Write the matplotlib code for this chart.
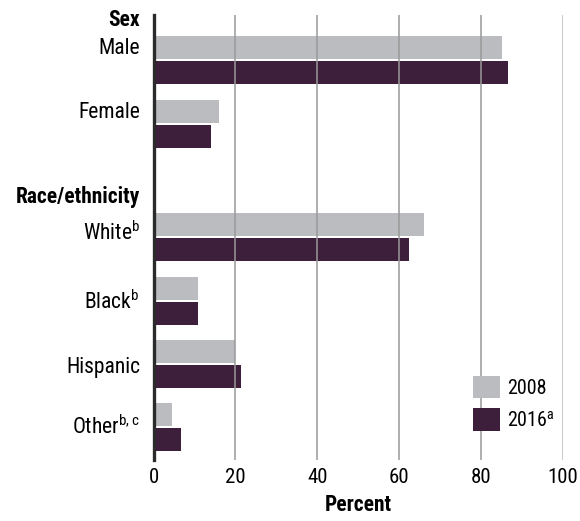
import matplotlib
matplotlib.use("Agg")
import matplotlib.pyplot as plt
from matplotlib import font_manager as fm
import numpy as np

# pick a condensed face if one is installed, otherwise a narrow-ish sans
cond = [f for f in fm.fontManager.ttflist
        if (f.stretch in ('condensed', 'semi-condensed', 'extra-condensed', 'ultra-condensed')
            or 'Narrow' in f.name or 'Condensed' in f.name)
        and f.style == 'normal']
cond.sort(key=lambda f: (0 if f.stretch == 'condensed' else 1,
                         0 if f.name.startswith(('Noto Sans', 'Open Sans', 'Roboto', 'Liberation')) else 1))
if cond:
    FONT = cond[0].name
    STRETCH = cond[0].stretch
    FS = 15.5
    FN = 15
else:
    FONT = 'Roboto'
    STRETCH = 'normal'
    FS = 13
    FN = 12.5

plt.rcParams['font.family'] = [FONT, 'DejaVu Sans']
plt.rcParams['font.stretch'] = STRETCH
plt.rcParams['mathtext.fontset'] = 'custom'
plt.rcParams['mathtext.rm'] = FONT + ':stretch=' + str(STRETCH)
plt.rcParams['mathtext.bf'] = FONT + ':bold:stretch=' + str(STRETCH)

# data
labels = ['Male', 'Female', 'White$^{\\rm b}$', 'Black$^{\\rm b}$', 'Hispanic', 'Other$^{\\rm b,c}$']
headers = ['Sex', 'Race/ethnicity']
vals_2008 = [85.0, 16.0, 66.1, 10.9, 20.0, 4.5]
vals_2016 = [86.6, 14.0, 62.4, 10.9, 21.4, 6.7]
series_names = ['2008', '2016$^{\\rm a}$']

c08 = '#bbbcbf'
c16 = '#3d1f3c'

fig = plt.figure(figsize=(5.8, 5.21), dpi=100)
ax = fig.add_axes([0.2647, 0.117, 0.706, 0.854])

# group positions: two sections with a gap between
ypos = np.array([0, 1, 2.787, 3.787, 4.787, 5.787])
head_y = [-0.63, 2.157]
lab_off = [-0.19, -0.17, -0.06, 0.02, 0.05, 0.0]

h = 0.362
ax.barh(ypos - 0.197, vals_2008, height=h, color=c08, label=series_names[0], zorder=2)
ax.barh(ypos + 0.197, vals_2016, height=h, color=c16, label=series_names[1], zorder=2)

ax.set_xlim(0, 100)
ax.set_ylim(6.3, -0.71)

ax.set_yticks([])
ax.set_xticks([0, 20, 40, 60, 80, 100])
ax.tick_params(axis='x', length=0, labelsize=FN, pad=6)
for xg in [20, 40, 60, 80]:
    ax.axvline(xg, color='#999999', lw=1.1, zorder=3)
ax.axvline(100, color='#bbbbbb', lw=1.1, zorder=3)

for s in ['top', 'right', 'bottom']:
    ax.spines[s].set_visible(False)
ax.spines['left'].set_linewidth(2.4)
ax.spines['left'].set_color('#2b2b2b')
ax.spines['left'].set_zorder(4)

tr = ax.get_yaxis_transform()
for y, lab, off in zip(ypos, labels, lab_off):
    ax.text(-0.033, y + off, lab, transform=tr, ha='right', va='center', fontsize=FS)
for y, hd in zip(head_y, headers):
    ax.text(-0.033, y, hd, transform=tr, ha='right', va='center', fontsize=FS, fontweight='bold')

ax.set_xlabel('Percent', fontsize=FS, fontweight='bold', labelpad=5)

ax.legend(loc='upper left', bbox_to_anchor=(0.78, 0.19), frameon=False, fontsize=14.5,
          handlelength=1.35, handleheight=1.35, labelspacing=0.5, handletextpad=0.35,
          borderpad=0, borderaxespad=0)

fig.savefig('out.png', dpi=100)
